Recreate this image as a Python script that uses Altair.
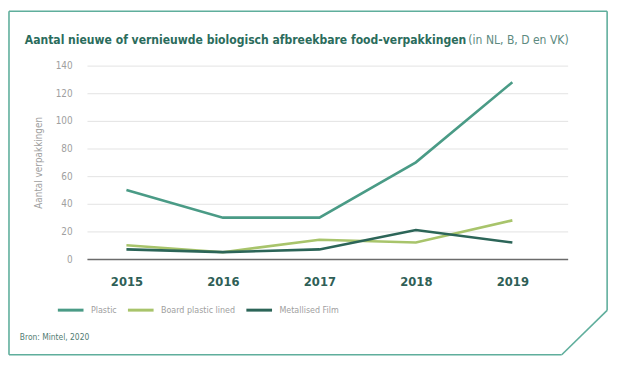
import altair as alt
import pandas as pd

years = [2015, 2016, 2017, 2018, 2019]
series_names = ["Plastic", "Board plastic lined", "Metallised Film"]
plastic = [50, 30, 30, 70, 128]
board = [10, 5, 14, 12, 28]
metallised = [7, 5, 7, 21, 12]
colors = ["#4a9b86", "#a8c46b", "#2c6558"]
y_ticks = [0, 20, 40, 60, 80, 100, 120, 140]

title_main = "Aantal nieuwe of vernieuwde biologisch afbreekbare food-verpakkingen"
title_sub = "(in NL, B, D en VK)"
y_title = "Aantal verpakkingen"
source = "Bron: Mintel, 2020"

rows = []
for name, vals in zip(series_names, [plastic, board, metallised]):
    for yr, v in zip(years, vals):
        rows.append({"Jaar": yr, "Aantal": v, "Serie": name})
df = pd.DataFrame(rows)

FONT = "DejaVu Sans Condensed, Roboto"
W, H = 487, 196

lines = alt.Chart(df).mark_line(strokeWidth=2.6).encode(
    x=alt.X("Jaar:Q",
            scale=alt.Scale(domain=[2014.591, 2019.573], nice=False, zero=False),
            axis=alt.Axis(values=years, format="d", title=None, grid=False,
                          ticks=False, domain=True, domainColor="#6b6b6b",
                          domainWidth=1.6, labelFont=FONT, labelFontSize=13,
                          labelFontWeight="bold", labelColor="#2f5f57",
                          labelBaseline="alphabetic", labelPadding=27)),
    y=alt.Y("Aantal:Q",
            scale=alt.Scale(domain=[0, 140], nice=False),
            axis=alt.Axis(values=y_ticks, title=y_title, grid=True,
                          gridColor="#e3e3e3", gridWidth=1, ticks=False,
                          domain=False, labelFont=FONT, labelFontSize=10,
                          labelColor="#a0a0a0", labelPadding=15,
                          titleFont=FONT, titleFontSize=10,
                          titleFontWeight="normal", titleColor="#a0a0a0",
                          titlePadding=12)),
    color=alt.Color("Serie:N",
                    scale=alt.Scale(domain=series_names, range=colors),
                    sort=series_names,
                    legend=alt.Legend(orient="none", direction="horizontal",
                                      legendX=-31, legendY=233, title=None,
                                      symbolType="stroke", symbolSize=676,
                                      symbolStrokeWidth=3, labelFont=FONT,
                                      labelFontSize=9, labelColor="#a0a0a0",
                                      labelOffset=6, columnPadding=4)),
)

one = alt.Data(values=[{"k": 1}])

def txt(text, x, y, size, color, weight="normal", align="left"):
    return alt.Chart(one).mark_text(
        font=FONT, fontSize=size, fontWeight=weight, color=color,
        align=align, baseline="alphabetic"
    ).encode(x=alt.value(x), y=alt.value(y), text=alt.value(text))

t1 = txt(title_main, -63, -22, 12.2, "#2b6c5c", weight="bold")
t2 = txt(title_sub, 488, -22, 12.2, "#5d8a80", align="right")
t3 = txt(source, -68, 278, 8.5, "#4f7c72")

def seg(x1, y1, x2, y2):
    return alt.Chart(one).mark_rule(color="#5fae9c", strokeWidth=1.6).encode(
        x=alt.value(x1), y=alt.value(y1), x2=alt.value(x2), y2=alt.value(y2))

frame = (seg(-79, -55, 527, -55) + seg(-79, -55, -79, 293) +
         seg(527, -55, 527, 248) + seg(527, 248, 481, 293) +
         seg(-79, 293, 481, 293))

chart = alt.layer(frame, lines, t1, t2, t3).properties(
    width=W, height=H,
    padding={"left": 80, "top": 56, "right": 50, "bottom": 108},
    autosize=alt.AutoSizeParams(type="none"),
    background="white",
).configure_view(stroke=None)

chart.save("out.html", embed_options={"renderer": "svg", "actions": False})
